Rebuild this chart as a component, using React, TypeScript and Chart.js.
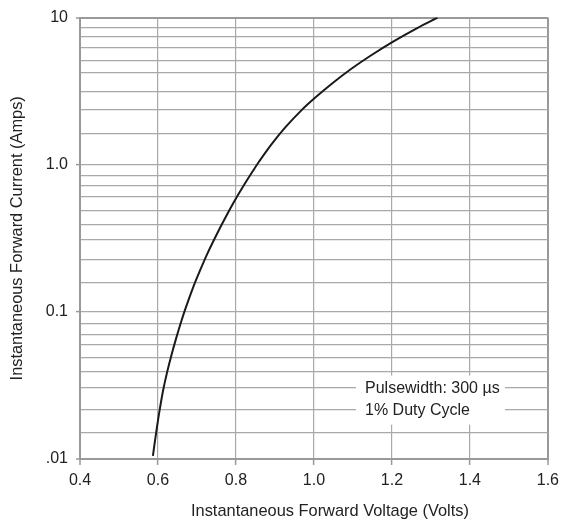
import React, { useEffect, useRef } from "react";
import { Chart, registerables } from "chart.js";

Chart.register(...registerables);

// Curve (forward voltage in V, forward current in A)
const voltage = [
  0.587, 0.595, 0.604, 0.614, 0.625, 0.635, 0.646, 0.659, 0.672, 0.689, 0.706,
  0.727, 0.757, 0.782, 0.801, 0.825, 0.842, 0.859, 0.892, 0.927, 0.969,
  1.002, 1.045, 1.096, 1.147, 1.203, 1.266, 1.317,
];
const current = [
  0.0105, 0.0149, 0.0213, 0.03, 0.0405, 0.0514, 0.0653, 0.0851, 0.108, 0.144,
  0.186, 0.25, 0.363, 0.485, 0.597, 0.761, 0.895, 1.047, 1.385, 1.8, 2.36,
  2.84, 3.54, 4.49, 5.55, 6.87, 8.53, 10,
];

// Axes
const xTickValues = [0.4, 0.6, 0.8, 1.0, 1.2, 1.4, 1.6];
const yDecades = [0.01, 0.1, 1, 10];
const yDecadeLabels = [".01", "0.1", "1.0", "10"];
// Minor horizontal rulings of the printed graph paper, as drawn in the reference
const yMinorGrid = [
  0.0151, 0.0215, 0.0307, 0.0394, 0.0486, 0.0597, 0.0698, 0.0828,
  0.157, 0.226, 0.311, 0.394, 0.486, 0.603, 0.719, 0.841,
  1.63, 2.36, 3.13, 4.21, 5.11, 6.24, 7.43, 8.49,
];

const xTitle = "Instantaneous Forward Voltage (Volts)";
const yTitle = "Instantaneous Forward Current (Amps)";
const noteLines = ["Pulsewidth: 300 µs", "1% Duty Cycle"];

const FONT = '"Liberation Sans", Arial, sans-serif';
const TEXT = "#222222";
const GRID = "#a9a9a9";
const FRAME = "#999999";

const annotationPlugin = {
  id: "notes",
  afterDraw(chart: any) {
    const { ctx, chartArea, scales } = chart;
    const xs = scales.x;
    const ys = scales.y;
    ctx.save();
    // x axis title
    ctx.font = `16.4px ${FONT}`;
    ctx.fillStyle = TEXT;
    ctx.textAlign = "center";
    ctx.textBaseline = "alphabetic";
    ctx.fillText(xTitle, (chartArea.left + chartArea.right) / 2 + 16, chartArea.bottom + 56.5);

    // note box
    const left = xs.getPixelForValue(1.108);
    const right = xs.getPixelForValue(1.49);
    const top = ys.getPixelForValue(0.0369);
    const bottom = ys.getPixelForValue(0.0171);
    ctx.fillStyle = "#ffffff";
    ctx.fillRect(left, top, right - left, bottom - top);
    ctx.fillStyle = TEXT;
    ctx.textAlign = "left";
    ctx.font = `16px ${FONT}`;
    const tx = xs.getPixelForValue(1.131);
    ctx.fillText(noteLines[0], tx, ys.getPixelForValue(0.0282));
    ctx.fillText(noteLines[1], tx, ys.getPixelForValue(0.02));
    ctx.restore();
  },
};

export default function App() {
  const ref = useRef<HTMLCanvasElement | null>(null);

  useEffect(() => {
    if (!ref.current) return;
    const points = voltage.map((v, i) => ({ x: v, y: current[i] }));
    const yTickVals = [...yDecades, ...yMinorGrid].sort((a, b) => a - b);
    const isDecade = (v: number) => yDecades.some((d) => Math.abs(d - v) < 1e-9);

    const chart = new Chart(ref.current, {
      type: "line",
      data: {
        datasets: [
          {
            data: points,
            borderColor: "#1a1a1a",
            borderWidth: 2,
            pointRadius: 0,
            tension: 0.35,
            fill: false,
          },
        ],
      },
      options: {
        animation: false,
        responsive: false,
        events: [],
        layout: { padding: { left: 0, top: 16, right: 14, bottom: 0 } },
        plugins: { legend: { display: false }, tooltip: { enabled: false } },
        scales: {
          x: {
            type: "linear",
            min: 0.4,
            max: 1.6,
            afterFit: (s: any) => {
              s.height = 63;
            },
            afterBuildTicks: (s: any) => {
              s.ticks = xTickValues.map((v) => ({ value: v }));
            },
            ticks: {
              autoSkip: false,
              maxRotation: 0,
              padding: 6,
              color: TEXT,
              font: { family: FONT, size: 16 },
              callback: (v: any) => Number(v).toFixed(1),
            },
            grid: {
              color: (c: any) =>
                c.tick && (c.tick.value === 1.6 || c.tick.value === 0.4) ? FRAME : GRID,
              lineWidth: (c: any) =>
                c.tick && (c.tick.value === 1.6 || c.tick.value === 0.4) ? 2 : 1.2,
              tickColor: FRAME,
              tickLength: 6,
              tickWidth: 1.5,
            },
            border: { color: FRAME, width: 2 },
          },
          y: {
            type: "logarithmic",
            min: 0.01,
            max: 10,
            afterFit: (s: any) => {
              s.width = 80;
            },
            afterBuildTicks: (s: any) => {
              s.ticks = yTickVals.map((v) => ({ value: v, major: isDecade(v) }));
            },
            ticks: {
              autoSkip: false,
              padding: 8,
              color: TEXT,
              font: { family: FONT, size: 16 },
              callback: (v: any) => {
                const idx = yDecades.findIndex((d) => Math.abs(d - Number(v)) < 1e-9);
                return idx >= 0 ? yDecadeLabels[idx] : "";
              },
            },
            grid: {
              color: (c: any) =>
                c.tick && (c.tick.value === 10 || c.tick.value === 0.01) ? FRAME : GRID,
              lineWidth: (c: any) =>
                c.tick && (c.tick.value === 10 || c.tick.value === 0.01) ? 2 : 1.2,
              tickColor: (c: any) => (c.tick && isDecade(c.tick.value) ? FRAME : "rgba(0,0,0,0)"),
              tickLength: 4,
              tickWidth: 1.5,
            },
            border: { color: FRAME, width: 2 },
            title: {
              display: true,
              text: yTitle,
              color: TEXT,
              font: { family: FONT, size: 16.4, lineHeight: 1.2 },
              padding: { top: 8, bottom: 0 },
            },
          },
        },
      },
      plugins: [annotationPlugin],
    } as any);

    return () => chart.destroy();
  }, []);

  return (
    <div style={{ position: "absolute", left: 0, top: 0, width: 565, height: 522, background: "#fff" }}>
      <canvas ref={ref} width={565} height={522} style={{ display: "block", width: 565, height: 522 }} />
    </div>
  );
}
